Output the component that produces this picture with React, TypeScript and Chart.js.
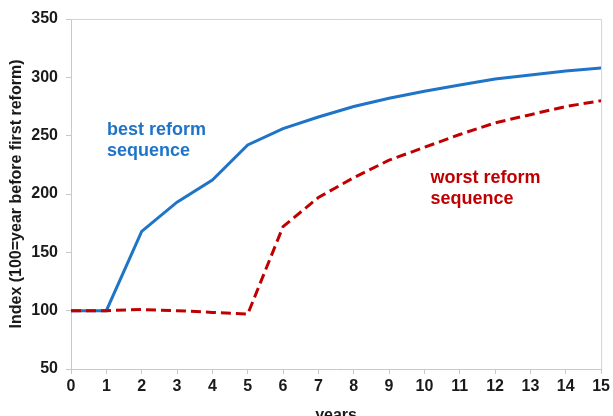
import React, { useEffect, useRef } from "react";
import { Chart, registerables } from "chart.js";

Chart.register(...registerables);

const years = [0, 1, 2, 3, 4, 5, 6, 7, 8, 9, 10, 11, 12, 13, 14, 15];
const bestReform = [100, 100, 168, 193, 212, 242, 256, 266, 275, 282, 288, 293.5, 298.5, 302, 305.5, 308];
const worstReform = [100, 100, 101, 100, 98.5, 97, 172, 197, 214, 229, 240, 251, 261, 268, 275, 280];
const yTicks = [50, 100, 150, 200, 250, 300, 350];

const BLUE = "#1f74c8";
const RED = "#c00000";
const FONT = "'Liberation Sans', Arial, sans-serif";

const frameAndLabels = {
  id: "frameAndLabels",
  afterDatasetsDraw(chart: any) {
    const { ctx, chartArea, scales } = chart;
    ctx.save();
    ctx.strokeStyle = "#d4d4d4";
    ctx.lineWidth = 1;
    ctx.beginPath();
    ctx.moveTo(chartArea.left, chartArea.top + 0.5);
    ctx.lineTo(chartArea.right + 0.5, chartArea.top + 0.5);
    ctx.lineTo(chartArea.right + 0.5, chartArea.bottom);
    ctx.stroke();

    const notes = [
      { lines: ["best reform", "sequence"], x: 1.02, y: 255, color: BLUE },
      { lines: ["worst reform", "sequence"], x: 10.17, y: 214, color: RED },
    ];
    ctx.font = `bold 18px ${FONT}`;
    ctx.textAlign = "left";
    ctx.textBaseline = "middle";
    for (const n of notes) {
      const px = scales.x.getPixelForValue(n.x);
      const py = scales.y.getPixelForValue(n.y);
      ctx.fillStyle = n.color;
      n.lines.forEach((t, i) => ctx.fillText(t, px, py + i * 21));
    }
    ctx.restore();
  },
};

export default function App() {
  const ref = useRef<HTMLCanvasElement>(null);
  useEffect(() => {
    document.body.style.margin = "0";
    const chart = new Chart(ref.current!, {
      type: "line",
      data: {
        labels: years,
        datasets: [
          {
            label: "worst reform sequence",
            data: worstReform,
            borderColor: RED,
            borderWidth: 3,
            borderDash: [10, 5],
            pointRadius: 0,
            fill: false,
            tension: 0,
            order: 0,
          },
          {
            label: "best reform sequence",
            data: bestReform,
            borderColor: BLUE,
            borderWidth: 3,
            pointRadius: 0,
            fill: false,
            tension: 0,
            order: 1,
          },
        ],
      },
      options: {
        responsive: false,
        animation: false,
        layout: { padding: { top: 19, right: 11, left: 0, bottom: 0 } },
        plugins: { legend: { display: false }, tooltip: { enabled: false } },
        scales: {
          x: {
            type: "linear",
            min: 0,
            max: 15,
            afterFit: (s: any) => {
              s.height = 47;
            },
            afterBuildTicks: (s: any) => {
              s.ticks = years.map((v) => ({ value: v }));
            },
            grid: { drawOnChartArea: false, drawTicks: true, tickLength: 5, color: "#c8c8c8" },
            border: { color: "#c8c8c8" },
            ticks: {
              color: "#1a1a1a",
              font: { family: FONT, size: 16, weight: "bold" },
              padding: 3,
              maxRotation: 0,
              autoSkip: false,
            },
            title: {
              display: true,
              text: "years",
              color: "#1a1a1a",
              font: { family: FONT, size: 16, weight: "bold", lineHeight: 1 },
              padding: { top: 0, bottom: -8 },
            },
          },
          y: {
            min: 50,
            max: 350,
            afterFit: (s: any) => {
              s.width = 71;
            },
            afterBuildTicks: (s: any) => {
              s.ticks = yTicks.map((v) => ({ value: v }));
            },
            grid: { drawOnChartArea: false, drawTicks: true, tickLength: 5, color: "#c8c8c8" },
            border: { color: "#c8c8c8" },
            ticks: {
              color: "#1a1a1a",
              font: { family: FONT, size: 16, weight: "bold" },
              padding: 8,
            },
            title: {
              display: true,
              text: "Index (100=year before first reform)",
              color: "#1a1a1a",
              font: { family: FONT, size: 16, weight: "bold", lineHeight: 1 },
              padding: { top: 9, bottom: 0 },
            },
          },
        },
      },
      plugins: [frameAndLabels],
    });
    return () => chart.destroy();
  }, []);
  return <canvas ref={ref} width={613} height={416} style={{ display: "block" }} />;
}
